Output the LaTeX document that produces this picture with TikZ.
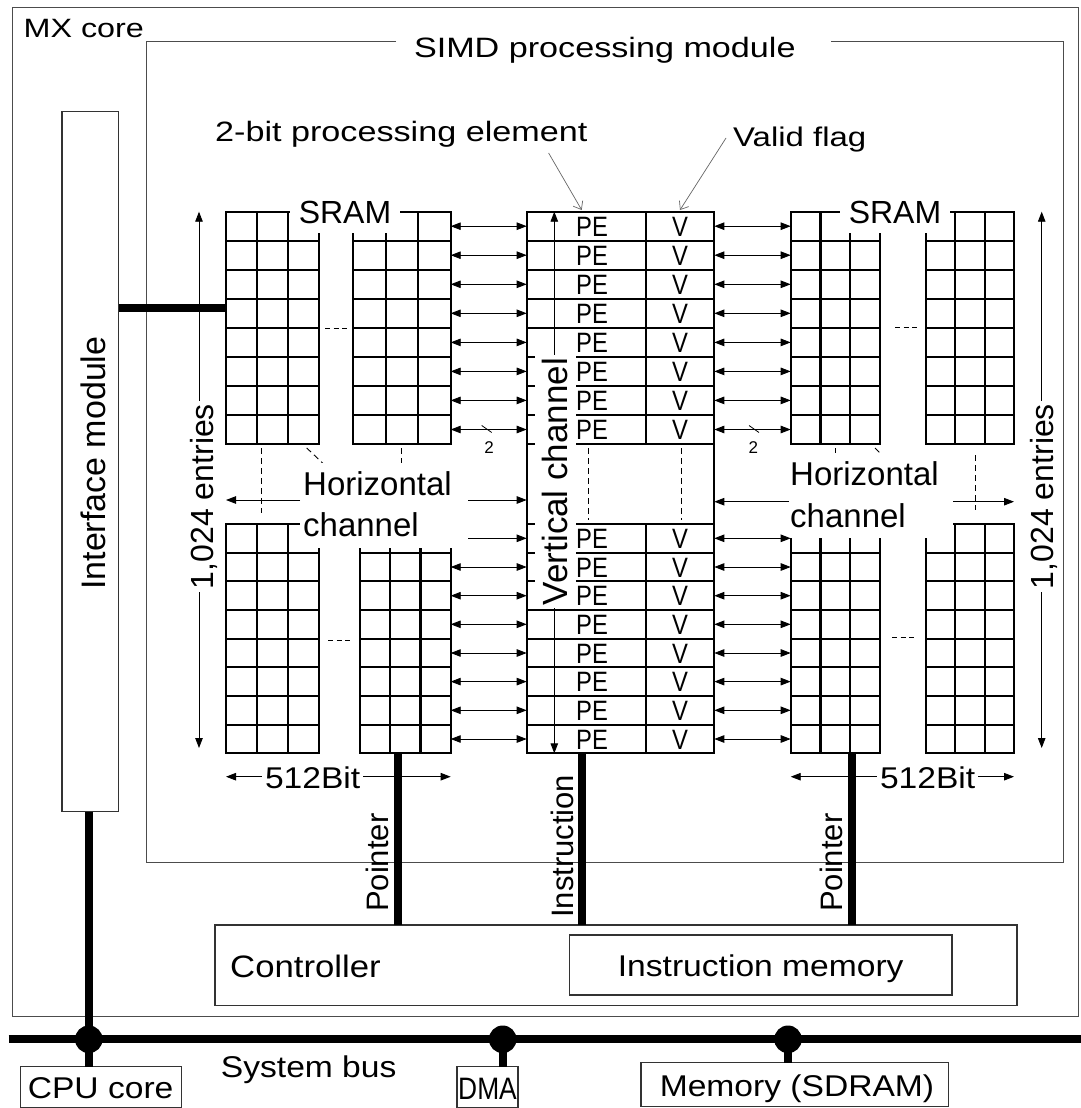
\documentclass[tikz,border=0pt]{standalone}
\usepackage{fontspec}
\setmainfont{Liberation Sans}
\newfontfamily\fwide[FakeStretch=1.22]{Liberation Sans}
\newfontfamily\fmid[FakeStretch=1.12]{Liberation Sans}
\newfontfamily\fnarrow[FakeStretch=0.85]{Liberation Sans}
\usetikzlibrary{arrows.meta,calc}
\newcommand\setfs[1]{\fontsize{#1}{#1}\selectfont}
% one SRAM bank: 3 columns x 8 rows between x0,x1 and y0,y1
\newcommand\cellgroup[4]{%
  \draw[cell] (#1,#3) rectangle (#2,#4);
  \foreach \k in {1,2}{\draw[cell] ({#1+\k*(#2-#1)/3},#3) -- ({#1+\k*(#2-#1)/3},#4);}
  \foreach \k in {1,...,7}{\draw[cell] (#1,{#3+\k*(#4-#3)/8}) -- (#2,{#3+\k*(#4-#3)/8});}
}
\begin{document}
\begin{tikzpicture}[x=1pt,y=-1pt,
  cell/.style={line width=2.2pt},
  outer/.style={draw=black!70, line width=1pt},
  box/.style={draw=black!80, line width=1.3pt, inner sep=0pt, outer sep=0pt, anchor=north west},
  region/.style={inner sep=0pt, outer sep=0pt, anchor=north west},
  mask/.style={fill=white, inner sep=0pt, outer sep=0pt},
  dbl/.style={line width=0.9pt, {Triangle[length=10pt,width=7.5pt]}-{Triangle[length=10pt,width=7.5pt]}},
  sgl/.style={line width=0.9pt, -{Triangle[length=10pt,width=7.5pt]}},
  lead/.style={draw=black!60, line width=0.7pt, -{Straight Barb[length=7pt,width=11pt]}},
  cont/.style={line width=0.9pt, dash pattern=on 6pt off 4pt},
  bus/.style={line width=8.3pt},
  petxt/.style={font=\fnarrow\setfs{28}, inner sep=0pt, anchor=base},
  lbl/.style={inner sep=0pt, anchor=base west},
  vlbl/.style={inner sep=0pt, anchor=base west, rotate=90},
]
\useasboundingbox (0,0) rectangle (1081,1108);
\fill[white] (0,0) rectangle (1081,1108);

% ---------- MX core and SIMD module frames ----------
\node[box, draw=black!70, line width=1pt, minimum width=1065.5pt, minimum height=1009.4pt] (mx) at (12.5,7.3) {};
\node[lbl, font=\fwide\setfs{26.5}] (mxlbl) at (23.4,37.3) {MX core};
\node[lbl, font=\fwide\setfs{28}] (simdlbl) at (413.8,57.3) {SIMD processing module};
\draw[outer] (396,41.7) -- (146.3,41.7) -- (146.3,862) -- (1063.5,862) -- (1063.5,41.7) -- (831,41.7);

% ---------- interface module ----------
\node[box, minimum width=56.6pt, minimum height=700pt] (iface) at (62,111.7) {};
\node[vlbl, font=\setfs{34}] (ifacelbl) at (105,590) {Interface module};

% ---------- block regions ----------
\node[region, minimum width=224.7pt, minimum height=541.6pt] (sramL) at (226,211.7) {};
\node[region, minimum width=187.6pt, minimum height=541.6pt] (pe) at (526.7,211.7) {};
\node[region, minimum width=223.3pt, minimum height=541.6pt] (sramR) at (790.7,211.7) {};

% ---------- SRAM banks ----------
\cellgroup{226}{319.3}{211.7}{444}
\cellgroup{353.3}{450.7}{211.7}{444}
\cellgroup{226}{319.3}{524}{753.3}
\cellgroup{360}{450.7}{524}{753.3}
\cellgroup{790.7}{880}{211.7}{444}
\cellgroup{926}{1014}{211.7}{444}
\cellgroup{790.7}{880}{524}{753.3}
\cellgroup{926}{1014}{524}{753.3}

% ---------- PE / valid-flag column ----------
\draw[cell] (526.7,211.7) rectangle (714.3,444);
\draw[cell] (645.7,211.7) -- (645.7,444);
\foreach \k in {1,...,7}{\draw[cell] (526.7,{211.7+\k*29.0375}) -- (714.3,{211.7+\k*29.0375});}
\draw[cell] (526.7,444) -- (526.7,524) (714.3,444) -- (714.3,524);
\draw[cell] (526.7,524) rectangle (714.3,753.3);
\draw[cell] (645.7,524) -- (645.7,753.3);
\foreach \k in {1,...,7}{\draw[cell] (526.7,{524+\k*28.6625}) -- (714.3,{524+\k*28.6625});}

% ---------- continuation marks ----------
\draw[cont] (261.7,448) -- (261.7,513);
\draw[cont] (401.7,448) -- (401.7,520);
\draw[cont] (306.7,448) -- (330,470);
\draw[cont] (835,448) -- (835,520);
\draw[cont] (875,448) -- (895,468);
\draw[cont] (975,455) -- (975,510);
\draw[cont] (588.3,448) -- (588.3,520);
\draw[cont] (681.7,448) -- (681.7,520);
\draw[line width=0.9pt, dash pattern=on 5pt off 3.5pt] (325,328) -- (349,328);
\draw[line width=0.9pt, dash pattern=on 5pt off 3.5pt] (328,640) -- (352,640);
\draw[line width=0.9pt, dash pattern=on 5pt off 3.5pt] (895,327) -- (917,327);
\draw[line width=0.9pt, dash pattern=on 5pt off 3.5pt] (892,637) -- (914,637);

% ---------- channel arrows under their labels ----------
\draw[dbl] (pe.north -| 554.3,0) -- (pe.south -| 554.3,0);
\coordinate (entLt) at (199,211.7); \coordinate (entLb) at (199,748);
\coordinate (entRt) at (1041.7,211.7); \coordinate (entRb) at (1041.7,748);
\draw[dbl] (entLt) -- (entLb);
\draw[dbl] (entRt) -- (entRb);
\draw[dbl] (sramL.west |- 0,776.7) -- (sramL.east |- 0,776.7);
\draw[dbl] (sramR.west |- 0,776.7) -- (sramR.east |- 0,776.7);

% ---------- labels with white backgrounds ----------
\node[mask, anchor=base, inner xsep=8.8pt, inner ysep=10pt, font=\setfs{32}] (sramLlbl) at (345,223) {SRAM};
\node[mask, anchor=base, inner xsep=8.8pt, inner ysep=10pt, font=\setfs{32}] (sramRlbl) at (895,223) {SRAM};
\node[mask, region, minimum width=168pt, minimum height=85pt] (hcL) at (300,463) {};
\node[lbl, font=\setfs{33}] (hcLa) at (303,495) {Horizontal};
\node[lbl, font=\setfs{33}] (hcLb) at (303,536.7) {channel};
\node[mask, region, minimum width=164pt, minimum height=85pt] (hcR) at (789,453) {};
\node[lbl, font=\setfs{33}] (hcRa) at (790,485) {Horizontal};
\node[lbl, font=\setfs{33}] (hcRb) at (790,527) {channel};
\node[mask, rotate=90, anchor=base west, inner xsep=3pt, inner ysep=4pt, text height=28pt, text depth=5pt, font=\setfs{35}] (vch) at (567,608) {Vertical channel};
\node[mask, rotate=90, anchor=base west, inner xsep=3pt, inner ysep=3pt, font=\setfs{32}] (entL) at (213,592) {1,024 entries};
\node[mask, rotate=90, anchor=base west, inner xsep=3pt, inner ysep=3pt, font=\setfs{32}] (entR) at (1053,592) {1,024 entries};
\node[mask, anchor=base west, inner xsep=3pt, inner ysep=2pt, font=\fmid\setfs{30}] (bitL) at (262,788.3) {512Bit};
\node[mask, anchor=base west, inner xsep=3pt, inner ysep=2pt, font=\fmid\setfs{30}] (bitR) at (877,788.3) {512Bit};

% ---------- row links between SRAM and PEs ----------
\foreach \c in {226.2,255.2,284.3,313.3,342.4,371.4,400.4,429.5,567.0,595.7,624.3,653.0,681.6,710.3,739.0}{
  \draw[dbl] (sramL.east |- 0,\c) -- (pe.west |- 0,\c);}
\draw[sgl] (hcL.east |- 0,538.3) -- (pe.west |- 0,538.3);
\foreach \c in {226.2,255.2,284.3,313.3,342.4,371.4,400.4,429.5,538.3,567.0,595.7,624.3,653.0,681.6,710.3,739.0}{
  \draw[dbl] (pe.east |- 0,\c) -- (sramR.west |- 0,\c);}
\draw[sgl] (hcL.west |- 0,500) -- (sramL.west |- 0,500);
\draw[sgl] (hcL.east |- 0,500) -- (pe.west |- 0,500);
\draw[sgl] (hcR.west |- 0,501.7) -- (pe.east |- 0,501.7);
\draw[sgl] (hcR.east |- 0,501.7) -- (sramR.east |- 0,501.7);
\draw[line width=0.8pt] (481.7,425.5) -- (491.7,432.5);
\node[inner sep=0pt, font=\setfs{17}] (twoL) at (489,448) {2};
\draw[line width=0.8pt] (749,425.5) -- (759,432.5);
\node[inner sep=0pt, font=\setfs{17}] (twoR) at (753.3,448) {2};

% ---------- PE and V cells ----------
\foreach \c [count=\i] in {226.2,255.2,284.3,313.3,342.4,371.4,400.4,429.5,538.3,567.0,595.7,624.3,653.0,681.6,710.3,739.0}{
  \node[petxt] (pe\i) at (592,{\c+10}) {PE};
  \node[petxt] (v\i) at (680,{\c+10}) {V};}

% ---------- callouts ----------
\node[lbl, font=\fwide\setfs{28}] (twobit) at (215,141) {2-bit processing element};
\node[lbl, font=\fwide\setfs{27}] (valid) at (733,146.7) {Valid flag};
\coordinate (twobitfoot) at (548.6,153);
\coordinate (validfoot) at (726,138);
\coordinate (petop) at (581.7,210);
\coordinate (vtop) at (680,210);
\draw[lead] (twobitfoot) -- (petop);
\draw[lead] (validfoot) -- (vtop);

% ---------- controller ----------
\node[box, minimum width=802pt, minimum height=80.7pt] (ctrl) at (215,925) {};
\node[lbl, font=\fmid\setfs{31}] (ctrllbl) at (230,977.3) {Controller};
\node[box, minimum width=382.7pt, minimum height=60pt] (imem) at (569.3,935) {};
\node[inner sep=0pt, anchor=base, font=\fmid\setfs{30}] (imemlbl) at (760.7,976.7) {Instruction memory};

\draw[bus] (sramL.south -| 398.3,0) -- (ctrl.north -| 398.3,0);
\draw[bus] (pe.south -| 581.7,0) -- (ctrl.north -| 581.7,0);
\draw[bus] (sramR.south -| 852,0) -- (ctrl.north -| 852,0);
\draw[bus] (iface.east |- 0,308.3) -- (sramL.west |- 0,308.3);
\node[vlbl, font=\setfs{31}] (ptrL) at (388,912) {Pointer};
\node[vlbl, font=\setfs{31}] (instr) at (573,918) {Instruction};
\node[vlbl, font=\setfs{31}] (ptrR) at (842,912) {Pointer};

% ---------- system bus ----------
\coordinate (busW) at (8.6,1039.3);
\coordinate (busE) at (1081,1039.3);
\coordinate (jcpu) at (88.8,1039.3);
\coordinate (jdma) at (502.7,1039.3);
\coordinate (jmem) at (788,1039.3);
\node[box, minimum width=161pt, minimum height=41pt] (cpu) at (20.7,1066.7) {};
\node[lbl, font=\fmid\setfs{30}] (cpulbl) at (27.6,1098.3) {CPU core};
\node[box, minimum width=61pt, minimum height=41pt] (dma) at (457,1066.7) {};
\node[inner sep=0pt, anchor=base, font=\fnarrow\setfs{31}] (dmalbl) at (487.5,1099) {DMA};
\node[box, minimum width=307.6pt, minimum height=44pt] (mem) at (641,1062.7) {};
\node[inner sep=0pt, anchor=base, font=\fmid\setfs{30}] (memlbl) at (797,1096.7) {Memory (SDRAM)};
\node[lbl, font=\fmid\setfs{30}] (buslbl) at (220.7,1077.3) {System bus};
\draw[bus] (busW) -- (busE);
\draw[bus] (iface.south -| jcpu) -- (cpu.north -| jcpu);
\draw[bus] (jdma) -- (dma.north -| jdma);
\draw[bus] (jmem) -- (mem.north -| jmem);
\fill (jcpu) circle (13.8pt);
\fill (jdma) circle (13.8pt);
\fill (jmem) circle (13.8pt);
\end{tikzpicture}
\end{document}
